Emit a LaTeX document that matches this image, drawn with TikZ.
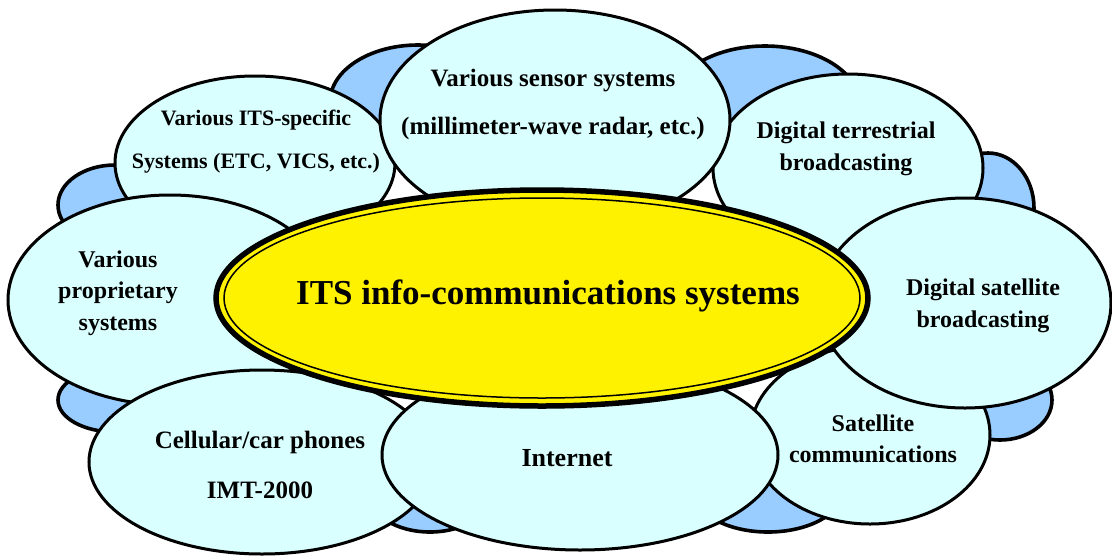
\documentclass[tikz,border=0pt]{standalone}
\usepackage{fontspec}
\setmainfont{Liberation Serif}
\usetikzlibrary{shapes.geometric}
\definecolor{skyblue}{HTML}{99CCFF}
\definecolor{palecyan}{HTML}{DAFFFF}
\begin{document}
\begin{tikzpicture}[x=1pt, y=-1pt,
    bump/.style ={draw, fill=skyblue, line width=3.6pt},
    oval/.style ={ellipse, draw, fill=palecyan, line width=3pt, inner sep=0pt},
    hub/.style ={ellipse, draw, fill=yellow, line width=5.5pt, inner sep=0pt,
                 minimum width=652pt, minimum height=216pt},
    txt/.style ={align=center, font=\bfseries\fontsize{24}{31.5}\selectfont}]
   \useasboundingbox (0,0) rectangle (1112,558);
   % blue cloud behind
   \draw[bump] (418,102) ellipse [x radius=88pt, y radius=57pt];
   \draw[bump] (765,105) ellipse [x radius=95pt, y radius=59pt];
   \draw[bump] (988,208) ellipse [x radius=46pt, y radius=55pt];
   \draw[bump] (115,205) ellipse [x radius=57pt, y radius=40pt];
   \draw[bump] (115,400) ellipse [x radius=57pt, y radius=32pt];
   \draw[bump] (430,495) ellipse [x radius=60pt, y radius=37pt];
   \draw[bump] (768,490) ellipse [x radius=75pt, y radius=42pt];
   \draw[bump] (1000,400) ellipse [x radius=52pt, y radius=40pt];
   % surrounding systems
   \node[oval, minimum width=270pt, minimum height=188pt] (T) at (848,168) {};
   \node[oval, minimum width=280pt, minimum height=174pt] (S) at (255,163) {};
   \node[oval, minimum width=350pt, minimum height=220pt] (R) at (555,120) {};
   \node[oval, minimum width=324pt, minimum height=210pt] (P) at (170,300) {};
   \node[oval, minimum width=346pt, minimum height=184pt] (C) at (262,462) {};
   \node[oval, minimum width=240pt, minimum height=178pt] (M) at (870,435) {};
   \node[oval, minimum width=292pt, minimum height=210pt] (B) at (965,303) {};
   \node[oval, minimum width=396pt, minimum height=190pt] (N) at (580,455) {};
   % centre
   \node[hub] (H) at (542,298) {};
   \draw[line width=1.5pt] (H.center) ellipse [x radius=318pt, y radius=100pt];
   % labels
   \node[txt, font=\bfseries\fontsize{25}{48}\selectfont] (Rt) at (553,104)
      {Various sensor systems\\(millimeter-wave radar, etc.)};
   \node[txt, font=\bfseries\fontsize{22}{43}\selectfont] (St) at (256,142)
      {Various ITS-specific\\Systems (ETC, VICS, etc.)};
   \node[txt] (Tt) at (846,149) {Digital terrestrial\\broadcasting};
   \node[txt] (Bt) at (983,306) {Digital satellite\\broadcasting};
   \node[txt] (Mt) at (873,439) {Satellite\\communications};
   \node[txt, font=\bfseries\fontsize{26}{31}\selectfont] (Nt) at (567,458) {Internet};
   \node[txt, font=\bfseries\fontsize{25}{50}\selectfont] (Ct) at (260,465)
      {Cellular/car phones\\IMT-2000};
   \node[txt] (Pt) at (118,293) {Various\\proprietary\\systems};
   \node[txt, font=\bfseries\fontsize{35}{40}\selectfont] (Ht) at (548,296)
      {ITS info-communications systems};
\end{tikzpicture}
\end{document}
